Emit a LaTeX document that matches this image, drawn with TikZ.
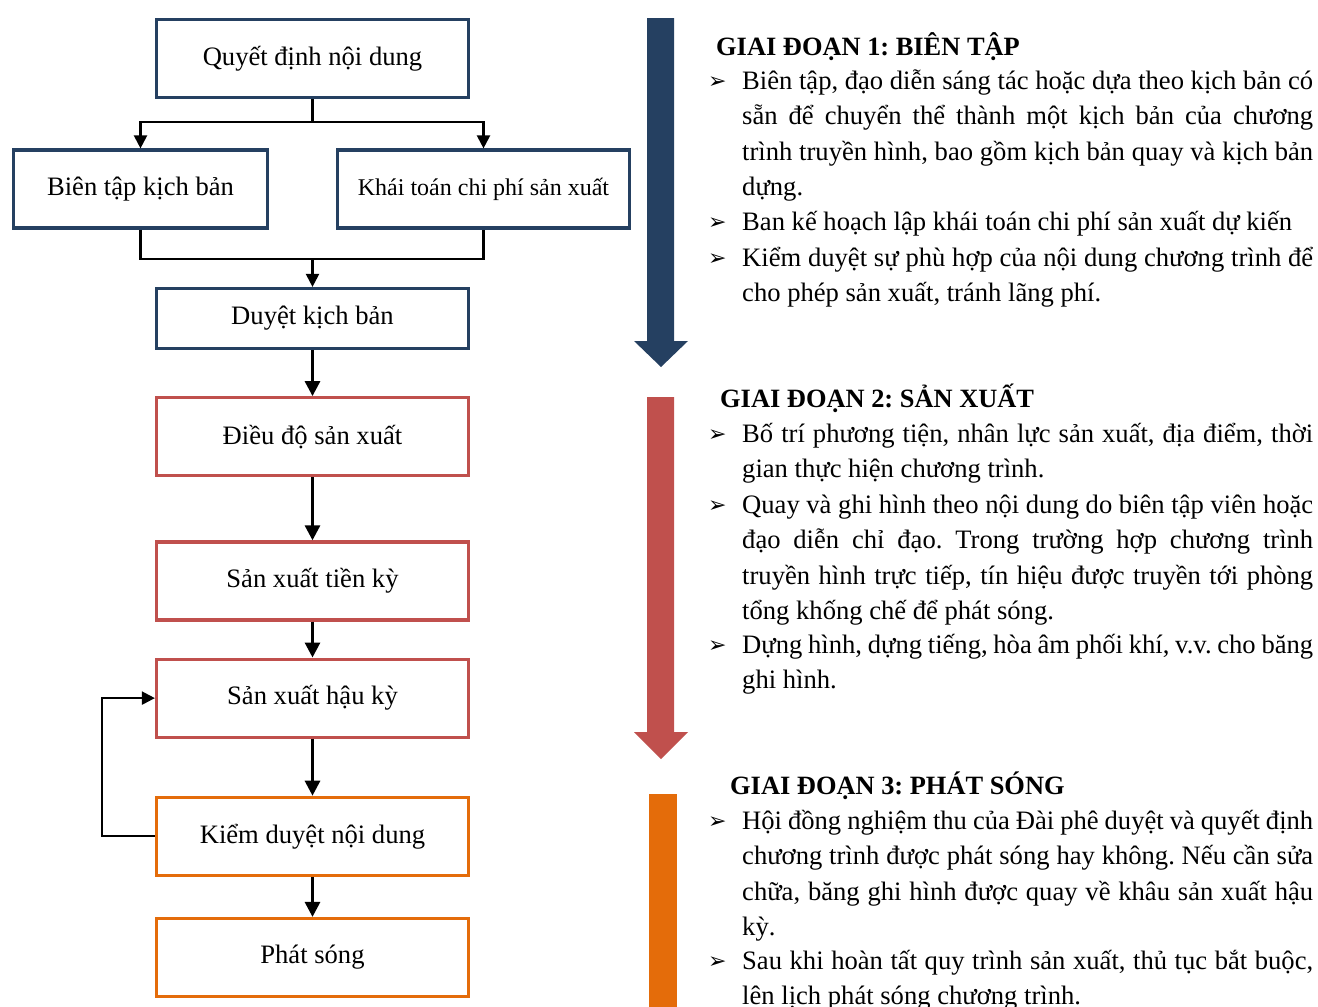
\documentclass[tikz,border=0pt]{standalone}
\usepackage{fontspec}
\setmainfont{Liberation Serif}
\newfontfamily\symfont{DejaVu Sans}
\usetikzlibrary{arrows.meta,positioning}
\definecolor{navyc}{HTML}{254061}
\definecolor{redc}{HTML}{C0504D}
\definecolor{orangec}{HTML}{E46C0A}
\frenchspacing
\tikzset{
  stepnode/.style={rectangle,draw,line width=3.2pt,minimum width=312pt,
    minimum height=78pt,text centered,font=\fontsize{26.6}{30}\selectfont,inner sep=4pt},
  navynode/.style={stepnode,draw=navyc},
  rednode/.style={stepnode,draw=redc},
  orangenode/.style={stepnode,draw=orangec},
  arrow/.style={-{Triangle[length=15pt,width=15pt]},line width=3pt},
  thinarrow/.style={-{Triangle[length=13pt,width=13pt]},line width=2.2pt},
  thinline/.style={line width=2.2pt},
  headtext/.style={anchor=base west,inner sep=0pt,font=\fontsize{26.4}{30}\selectfont\bfseries},
  itemtext/.style={anchor=base west,inner sep=0pt,text width=571pt,align=justify,
    font=\fontsize{26.6}{35.5}\selectfont},
  bullet/.style={anchor=base west,inner sep=0pt,font=\symfont\fontsize{22}{24}\selectfont},
}

\begin{document}
\begin{tikzpicture}[x=1pt,y=-1pt]
  \useasboundingbox (0,0) rectangle (1318,1007);

  % left column
  \node[navynode] (quyet) at (312.5,58.5) {Quyết định nội dung};
  \node[navynode, minimum width=254pt] (bien) at (140.5,189) {Biên tập kịch bản};
  \node[navynode, minimum width=292pt, font=\fontsize{24}{28}\selectfont] (khai) at (483.5,189)
    {Khái toán chi phí sản xuất};
  \node[navynode, minimum height=60pt] (duyet) at (312.5,318.5) {Duyệt kịch bản};
  \node[rednode, below=46pt of duyet] (dieudo) {Điều độ sản xuất};
  \node[rednode, below=63pt of dieudo] (tienky) {Sản xuất tiền kỳ};
  \node[rednode, below=36pt of tienky] (hauky) {Sản xuất hậu kỳ};
  \node[orangenode, below=57pt of hauky] (kiem) {Kiểm duyệt nội dung};
  \node[orangenode, below=40pt of kiem] (phat) {Phát sóng};

  \draw[thinarrow] (quyet.south) -- ++(0,23) -| (bien.north);
  \draw[thinarrow] (quyet.south) -- ++(0,23) -| (khai.north);
  \draw[thinline] (bien.south) -- ++(0,29) coordinate (merge) -| (khai.south);
  \draw[thinarrow] (merge -| duyet.north) -- (duyet.north);

  \draw[arrow] (duyet) -- (dieudo);
  \draw[arrow] (dieudo) -- (tienky);
  \draw[arrow] (tienky) -- (hauky);
  \draw[arrow] (hauky) -- (kiem);
  \draw[arrow] (kiem) -- (phat);
  \draw[thinarrow] (kiem.west) -- ++(-53,0) |- (hauky.west);

  % stage arrows
  \fill[navyc] (647,18) -- (674,18) -- (674,341) -- (688,341) -- (661,367)
    -- (634,341) -- (647,341) -- cycle;
  \fill[redc] (647,397) -- (674,397) -- (674,732) -- (688,732) -- (661,759)
    -- (634,732) -- (647,732) -- cycle;
  \fill[orangec] (649,794) rectangle (677,1007);

  % stage 1
  \node[headtext] (head1) at (716,55) {GIAI ĐOẠN 1: BIÊN TẬP};
  \node[bullet] (b11) at (708,88) {➢};
  \node[itemtext] (t11) at (742,89) {Biên tập, đạo diễn sáng tác hoặc dựa theo kịch bản có
    \linebreak sẵn để chuyển thể thành một kịch bản của chương \linebreak trình truyền
    hình, bao gồm kịch bản quay và kịch bản \linebreak dựng.};
  \node[bullet] (b12) at (708,229) {➢};
  \node[itemtext] (t12) at (742,230) {Ban kế hoạch lập khái toán chi phí sản xuất dự kiến};
  \node[bullet] (b13) at (708,265) {➢};
  \node[itemtext] (t13) at (742,266) {Kiểm duyệt sự phù hợp của nội dung chương trình để
    \linebreak cho phép sản xuất, tránh lãng phí.};

  % stage 2
  \node[headtext] (head2) at (720,407) {GIAI ĐOẠN 2: SẢN XUẤT};
  \node[bullet] (b21) at (708,441) {➢};
  \node[itemtext] (t21) at (742,442) {Bố trí phương tiện, nhân lực sản xuất, địa điểm, thời
    \linebreak gian thực hiện chương trình.};
  \node[bullet] (b22) at (708,512) {➢};
  \node[itemtext] (t22) at (742,513) {Quay và ghi hình theo nội dung do biên tập viên hoặc
    \linebreak đạo diễn chỉ đạo. Trong trường hợp chương trình \linebreak truyền hình trực
    tiếp, tín hiệu được truyền tới phòng \linebreak tổng khống chế để phát sóng.};
  \node[bullet] (b23) at (708,652) {➢};
  \node[itemtext] (t23) at (742,653) {Dựng hình, dựng tiếng, hòa âm phối khí, v.v. cho băng
    \linebreak ghi hình.};

  % stage 3
  \node[headtext] (head3) at (730,794) {GIAI ĐOẠN 3: PHÁT SÓNG};
  \node[bullet] (b31) at (708,828) {➢};
  \node[itemtext] (t31) at (742,829) {Hội đồng nghiệm thu của Đài phê duyệt và quyết định
    \linebreak chương trình được phát sóng hay không. Nếu cần sửa \linebreak chữa, băng
    ghi hình được quay về khâu sản xuất hậu \linebreak kỳ.};
  \node[bullet] (b32) at (708,968) {➢};
  \node[itemtext] (t32) at (742,969) {Sau khi hoàn tất quy trình sản xuất, thủ tục bắt buộc,
    \linebreak lên lịch phát sóng chương trình.};
\end{tikzpicture}
\end{document}
